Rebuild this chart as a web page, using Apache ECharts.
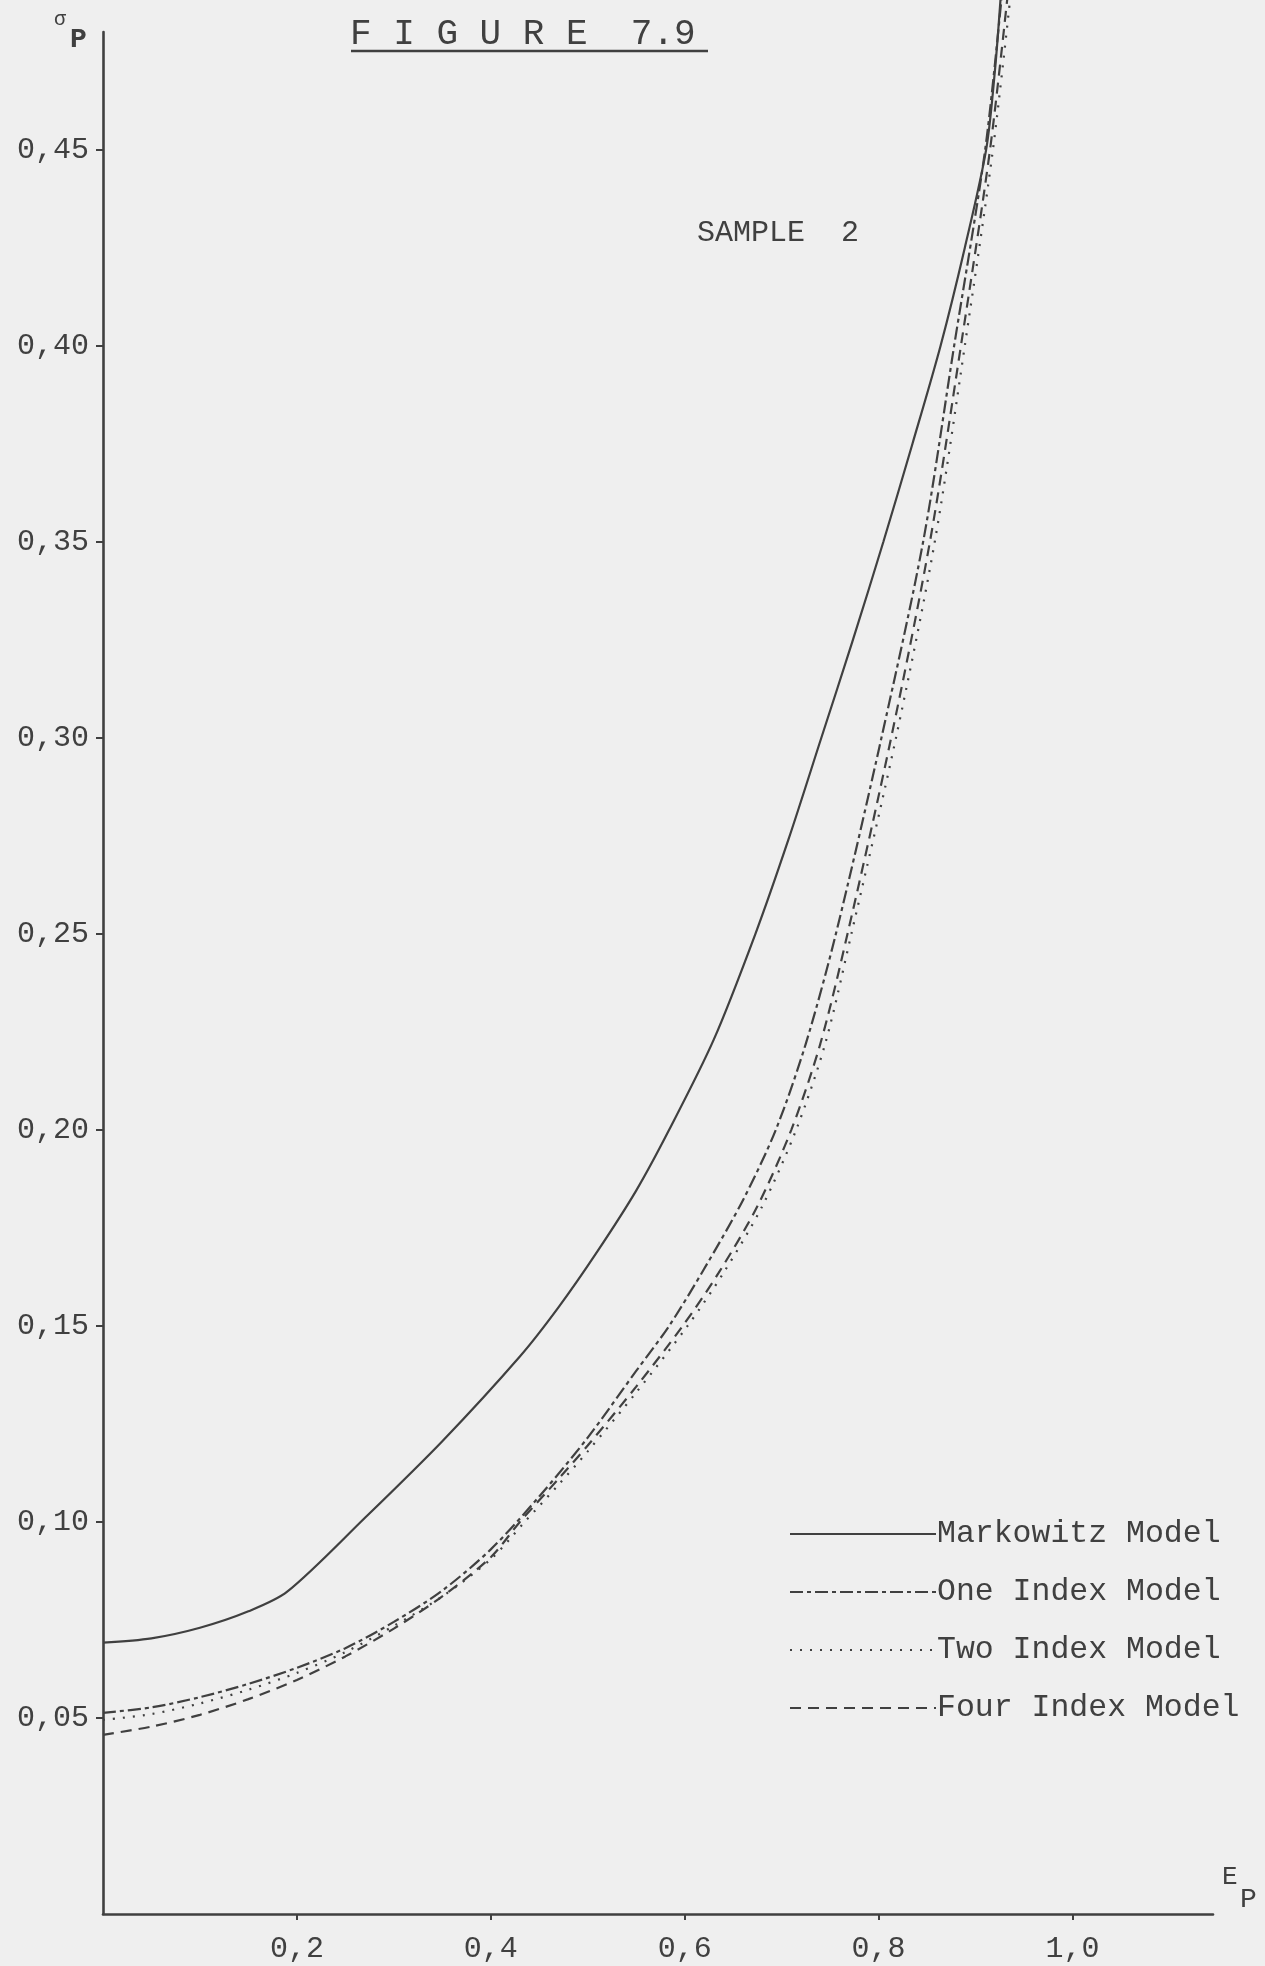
<!DOCTYPE html>
<html>
<head>
<meta charset="utf-8">
<title>Figure 7.9 - Sample 2</title>
<script src="https://cdn.jsdelivr.net/npm/echarts@6/dist/echarts.min.js"></script>
<style>
  html, body { margin: 0; padding: 0; background: #efefef; }
  #chart { width: 1265px; height: 1966px; }
</style>
</head>
<body>
<div id="chart"></div>
<script>
// Efficient frontiers: expected portfolio return E_p against risk sigma_p
const xTicks = [0.2, 0.4, 0.6, 0.8, 1.0];
const yTicks = [0.05, 0.10, 0.15, 0.20, 0.25, 0.30, 0.35, 0.40, 0.45];

const markowitz = [
  [0.00, 0.0692], [0.05, 0.0703], [0.10, 0.0730], [0.15, 0.0772], [0.19, 0.0822],
  [0.27, 0.1010], [0.35, 0.1206], [0.43, 0.1422], [0.47, 0.1548], [0.51, 0.1690],
  [0.55, 0.1845], [0.584, 0.2000], [0.63, 0.2230], [0.673, 0.2500], [0.707, 0.2740],
  [0.741, 0.3000], [0.773, 0.3245], [0.805, 0.3500], [0.835, 0.3750], [0.864, 0.4000],
  [0.889, 0.4250], [0.911, 0.4500], [0.920, 0.4700], [0.926, 0.4890]
];

const oneIndex = [
  [0.00, 0.0513], [0.05, 0.0527], [0.10, 0.0553], [0.15, 0.0587], [0.20, 0.0628],
  [0.25, 0.0678], [0.30, 0.0745], [0.35, 0.0825], [0.40, 0.0930], [0.45, 0.1065],
  [0.50, 0.1215], [0.55, 0.1385], [0.584, 0.1500], [0.62, 0.1645], [0.66, 0.1820],
  [0.694, 0.2000], [0.725, 0.2220], [0.756, 0.2500], [0.803, 0.3000], [0.846, 0.3500],
  [0.878, 0.4000], [0.910, 0.4500], [0.927, 0.4890]
];

const twoIndex = [
  [0.00, 0.0495], [0.05, 0.0510], [0.10, 0.0537], [0.15, 0.0572], [0.20, 0.0615],
  [0.25, 0.0668], [0.30, 0.0735], [0.35, 0.0810], [0.40, 0.0905], [0.435, 0.1000],
  [0.47, 0.1095], [0.50, 0.1180], [0.55, 0.1330], [0.603, 0.1500], [0.64, 0.1635],
  [0.68, 0.1805], [0.715, 0.2000], [0.745, 0.2220], [0.772, 0.2500], [0.818, 0.3000],
  [0.858, 0.3500], [0.889, 0.4000], [0.918, 0.4500], [0.936, 0.4890]
];

const fourIndex = [
  [0.00, 0.0457], [0.05, 0.0478], [0.10, 0.0508], [0.15, 0.0548], [0.20, 0.0597],
  [0.25, 0.0657], [0.30, 0.0728], [0.35, 0.0810], [0.40, 0.0910], [0.43, 0.1000],
  [0.47, 0.1110], [0.50, 0.1195], [0.55, 0.1345], [0.598, 0.1500], [0.635, 0.1635],
  [0.675, 0.1805], [0.71, 0.2000], [0.74, 0.2220], [0.768, 0.2500], [0.813, 0.3000],
  [0.853, 0.3500], [0.885, 0.4000], [0.915, 0.4500], [0.933, 0.4890]
];

const ink = '#404040';
const mono = '"Liberation Mono", "DejaVu Sans Mono", monospace';

function comma(v, digits) {
  return v.toFixed(digits).replace('.', ',');
}

function curve(name, data, type) {
  return {
    name: name,
    type: 'line',
    data: data,
    smooth: 0.3,
    symbol: 'none',
    clip: false,
    lineStyle: { color: ink, width: 2.2, type: type },
    itemStyle: { color: ink }
  };
}

const chart = echarts.init(document.getElementById('chart'), null, { renderer: 'canvas' });

chart.setOption({
  backgroundColor: '#efefef',
  animation: false,
  textStyle: { fontFamily: mono, color: ink },
  grid: { left: 103, right: 52, top: 32, bottom: 52 },
  xAxis: {
    type: 'value',
    min: 0,
    max: 1.145,
    interval: 0.2,
    splitLine: { show: false },
    axisLine: { show: true, lineStyle: { color: ink, width: 2.6 } },
    axisTick: { show: true, length: 6, customValues: xTicks, lineStyle: { color: ink, width: 2 } },
    axisLabel: {
      customValues: xTicks,
      margin: 20,
      fontFamily: mono,
      fontSize: 30,
      color: ink,
      formatter: v => comma(v, 1)
    }
  },
  yAxis: {
    type: 'value',
    min: 0,
    max: 0.48,
    interval: 0.05,
    splitLine: { show: false },
    axisLine: { show: true, lineStyle: { color: ink, width: 2.6 } },
    axisTick: { show: true, length: 7, customValues: yTicks, lineStyle: { color: ink, width: 2 } },
    axisLabel: {
      customValues: yTicks,
      margin: 14,
      fontFamily: mono,
      fontSize: 30,
      color: ink,
      formatter: v => comma(v, 2)
    }
  },
  legend: {
    orient: 'vertical',
    left: 784,
    top: 1513,
    itemWidth: 146,
    itemHeight: 16,
    itemGap: 26,
    itemStyle: { opacity: 0 },
    textStyle: { fontFamily: mono, fontSize: 31.5, color: ink, lineHeight: 32, padding: [0, 0, 0, -4] },
    data: ['Markowitz Model', 'One Index Model', 'Two Index Model', 'Four Index Model']
  },
  series: [
    curve('Markowitz Model', markowitz, 'solid'),
    curve('One Index Model', oneIndex, [13, 4, 4, 4]),
    curve('Two Index Model', twoIndex, [2, 8]),
    curve('Four Index Model', fourIndex, [11, 7])
  ],
  graphic: [
    { type: 'text', left: 350, top: 16, style: { text: 'F I G U R E  7.9', font: '36px ' + mono, fill: ink } },
    { type: 'line', shape: { x1: 351, y1: 51, x2: 708, y2: 51 }, style: { stroke: ink, lineWidth: 2.6 } },
    { type: 'text', left: 697, top: 218, style: { text: 'SAMPLE  2', font: '30px ' + mono, fill: ink } },
    { type: 'text', left: 54, top: 10, style: { text: 'σ', font: '20px ' + mono, fill: ink } },
    { type: 'text', left: 70, top: 26, style: { text: 'P', font: 'bold 28px ' + mono, fill: ink } },
    { type: 'text', left: 1222, top: 1864, style: { text: 'E', font: '26px ' + mono, fill: ink } },
    { type: 'text', left: 1240, top: 1886, style: { text: 'P', font: '28px ' + mono, fill: ink } }
  ]
});
</script>
</body>
</html>
